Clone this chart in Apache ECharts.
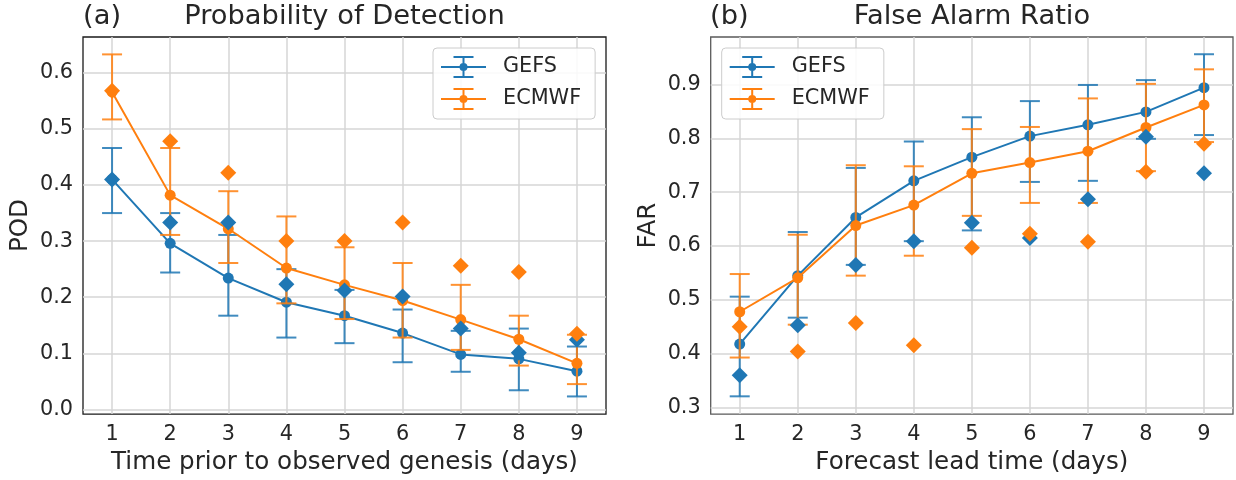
<!DOCTYPE html>
<html>
<head>
<meta charset="utf-8">
<script src="https://cdn.jsdelivr.net/npm/echarts@6/dist/echarts.min.js"></script>
<style>
html,body{margin:0;padding:0;background:#fff;}
#chart{width:1236px;height:480px;}
</style>
</head>
<body>
<div id="chart"></div>
<script>
// ---- data ----
const days = [1, 2, 3, 4, 5, 6, 7, 8, 9];
const podTicks = [0.0, 0.1, 0.2, 0.3, 0.4, 0.5, 0.6];
const farTicks = [0.3, 0.4, 0.5, 0.6, 0.7, 0.8, 0.9];

// (a) Probability of Detection
const gefsPod        = [0.410, 0.296, 0.234, 0.191, 0.167, 0.136, 0.098, 0.090, 0.068];
const gefsPodLo      = [0.350, 0.244, 0.167, 0.128, 0.118, 0.084, 0.067, 0.034, 0.023];
const gefsPodHi      = [0.466, 0.350, 0.311, 0.250, 0.213, 0.178, 0.140, 0.144, 0.112];
const gefsPodDiamond = [0.410, 0.333, 0.333, 0.223, 0.212, 0.201, 0.144, 0.101, 0.124];
const ecmwfPod        = [0.566, 0.382, 0.322, 0.252, 0.222, 0.194, 0.160, 0.125, 0.082];
const ecmwfPodLo      = [0.517, 0.311, 0.261, 0.189, 0.161, 0.128, 0.106, 0.078, 0.045];
const ecmwfPodHi      = [0.633, 0.466, 0.389, 0.344, 0.289, 0.261, 0.222, 0.167, 0.133];
const ecmwfPodDiamond = [0.568, 0.478, 0.422, 0.300, 0.300, 0.333, 0.256, 0.245, 0.135];

// (b) False Alarm Ratio
const gefsFar        = [0.418, 0.545, 0.653, 0.721, 0.765, 0.804, 0.825, 0.849, 0.894];
const gefsFarLo      = [0.321, 0.467, 0.565, 0.609, 0.629, 0.719, 0.721, 0.799, 0.806];
const gefsFarHi      = [0.506, 0.626, 0.745, 0.794, 0.839, 0.869, 0.899, 0.908, 0.956];
const gefsFarDiamond = [0.360, 0.453, 0.565, 0.609, 0.643, 0.615, 0.687, 0.803, 0.735];
const ecmwfFar        = [0.478, 0.541, 0.638, 0.676, 0.735, 0.755, 0.776, 0.820, 0.862];
const ecmwfFarLo      = [0.393, 0.454, 0.545, 0.582, 0.656, 0.680, 0.680, 0.739, 0.793];
const ecmwfFarHi      = [0.548, 0.621, 0.750, 0.748, 0.817, 0.821, 0.874, 0.901, 0.928];
const ecmwfFarDiamond = [0.450, 0.404, 0.457, 0.416, 0.597, 0.623, 0.608, 0.738, 0.790];

// ---- styling ----
const BLUE = '#1f77b4', ORANGE = '#ff7f0e';
const TXT = '#262626';
const FONT = 'DejaVu Sans';
const GRIDC = '#d6d6d6';

const legendIcon = 'path://M0,10 h45 v2 h-45 z M21.5,0 h2 v22 h-2 z M12.5,0 h20 v2 h-20 z M12.5,20 h20 v2 h-20 z M18.5,11 a4,4 0 1,1 8,0 a4,4 0 1,1 -8,0 z';

function pairs(ys) { return days.map((d, i) => [d, ys[i]]); }
function triples(lo, hi) { return days.map((d, i) => [d, lo[i], hi[i]]); }

function errRender(color) {
  return function (params, api) {
    const x = api.value(0);
    const pl = api.coord([x, api.value(1)]);
    const ph = api.coord([x, api.value(2)]);
    const hw = 10;
    const style = { stroke: color, lineWidth: 2, opacity: 0.85, fill: null };
    return {
      type: 'group',
      children: [
        { type: 'line', shape: { x1: pl[0], y1: pl[1], x2: ph[0], y2: ph[1] }, style: style },
        { type: 'line', shape: { x1: pl[0] - hw, y1: pl[1], x2: pl[0] + hw, y2: pl[1] }, style: style },
        { type: 'line', shape: { x1: ph[0] - hw, y1: ph[1], x2: ph[0] + hw, y2: ph[1] }, style: style }
      ]
    };
  };
}

function panelSeries(idx, gM, gLo, gHi, gD, eM, eLo, eHi, eD) {
  const ax = { xAxisIndex: idx, yAxisIndex: idx };
  return [
    Object.assign({ type: 'custom', name: 'GEFS', z: 2, color: BLUE, renderItem: errRender(BLUE),
      encode: { x: 0, y: [1, 2] }, data: triples(gLo, gHi), silent: true }, ax),
    Object.assign({ type: 'line', name: 'GEFS', z: 3, color: BLUE, data: pairs(gM),
      symbol: 'circle', symbolSize: 11, showSymbol: true,
      lineStyle: { width: 2, color: BLUE }, itemStyle: { color: BLUE } }, ax),
    Object.assign({ type: 'custom', name: 'ECMWF', z: 4, color: ORANGE, renderItem: errRender(ORANGE),
      encode: { x: 0, y: [1, 2] }, data: triples(eLo, eHi), silent: true }, ax),
    Object.assign({ type: 'line', name: 'ECMWF', z: 5, color: ORANGE, data: pairs(eM),
      symbol: 'circle', symbolSize: 11, showSymbol: true,
      lineStyle: { width: 2, color: ORANGE }, itemStyle: { color: ORANGE } }, ax),
    Object.assign({ type: 'scatter', name: 'GEFS D', z: 6, data: pairs(gD),
      symbol: 'diamond', symbolSize: 16, itemStyle: { color: BLUE, opacity: 1 } }, ax),
    Object.assign({ type: 'scatter', name: 'ECMWF D', z: 7, data: pairs(eD),
      symbol: 'diamond', symbolSize: 16, itemStyle: { color: ORANGE, opacity: 1 } }, ax)
  ];
}

function xAxisDef(gridIndex, name) {
  return {
    type: 'value', gridIndex: gridIndex, min: 0.5, max: 9.5,
    name: name, nameLocation: 'middle', nameGap: 34,
    nameTextStyle: { fontSize: 24.6, color: TXT, fontFamily: FONT },
    axisLine: { show: false },
    axisTick: { show: false, customValues: days },
    axisLabel: { customValues: days, fontSize: 20.8, color: TXT, fontFamily: FONT, margin: 10,
      formatter: v => String(v) },
    splitLine: { show: true, lineStyle: { color: GRIDC, width: 1.5 } }
  };
}

function yAxisDef(gridIndex, name, min, max, ticks) {
  return {
    type: 'value', gridIndex: gridIndex, min: min, max: max,
    name: name, nameLocation: 'middle', nameGap: 50, nameRotate: 90,
    nameTextStyle: { fontSize: 24.6, color: TXT, fontFamily: FONT },
    axisLine: { show: false },
    axisTick: { show: false, customValues: ticks },
    axisLabel: { customValues: ticks, fontSize: 20.8, color: TXT, fontFamily: FONT, margin: 10,
      formatter: v => v.toFixed(1) },
    splitLine: { show: true, lineStyle: { color: GRIDC, width: 1.5 } }
  };
}

function legendDef(left) {
  return {
    orient: 'vertical', left: left, top: 48,
    itemWidth: 45, itemHeight: 22, itemGap: 10,
    padding: [8, 14, 9, 8],
    borderColor: '#cccccc', borderWidth: 1, borderRadius: 4,
    backgroundColor: 'rgba(255,255,255,0.85)',
    selectedMode: false,
    formatter: name => '{t|' + name + '}',
    textStyle: { fontSize: 20.8, color: TXT, fontFamily: FONT,
      rich: { t: { fontSize: 20.8, color: TXT, fontFamily: FONT, padding: [0, 0, 0, 12] } } },
    data: [{ name: 'GEFS', icon: legendIcon }, { name: 'ECMWF', icon: legendIcon }]
  };
}

const titleStyle = { fontSize: 27.3, color: TXT, fontFamily: FONT, fontWeight: 'normal' };

const option = {
  animation: false,
  backgroundColor: '#ffffff',
  textStyle: { fontFamily: FONT },
  title: [
    { text: '(a)', left: 83, top: 3, padding: 0, textStyle: titleStyle },
    { text: 'Probability of Detection', left: 344.5, textAlign: 'center', top: 3, padding: 0, textStyle: titleStyle },
    { text: '(b)', left: 710, top: 3, padding: 0, textStyle: titleStyle },
    { text: 'False Alarm Ratio', left: 972, textAlign: 'center', top: 3, padding: 0, textStyle: titleStyle }
  ],
  grid: [
    { left: 83, top: 37, width: 523, height: 381, show: true, borderColor: '#1a1a1a', borderWidth: 1.3, backgroundColor: 'transparent', containLabel: false },
    { left: 710.7, top: 37, width: 522.3, height: 381, show: true, borderColor: '#5a5a5a', borderWidth: 1.3, backgroundColor: 'transparent', containLabel: false }
  ],
  legend: [legendDef(433), legendDef(721.7)],
  xAxis: [
    xAxisDef(0, 'Time prior to observed genesis (days)'),
    xAxisDef(1, 'Forecast lead time (days)')
  ],
  yAxis: [
    yAxisDef(0, 'POD', -0.0085, 0.664, podTicks),
    yAxisDef(1, 'FAR', 0.288, 0.988, farTicks)
  ],
  series: [].concat(
    panelSeries(0, gefsPod, gefsPodLo, gefsPodHi, gefsPodDiamond, ecmwfPod, ecmwfPodLo, ecmwfPodHi, ecmwfPodDiamond),
    panelSeries(1, gefsFar, gefsFarLo, gefsFarHi, gefsFarDiamond, ecmwfFar, ecmwfFarLo, ecmwfFarHi, ecmwfFarDiamond)
  )
};

const chart = echarts.init(document.getElementById('chart'), null, { renderer: 'canvas' });
chart.setOption(option);
</script>
</body>
</html>
